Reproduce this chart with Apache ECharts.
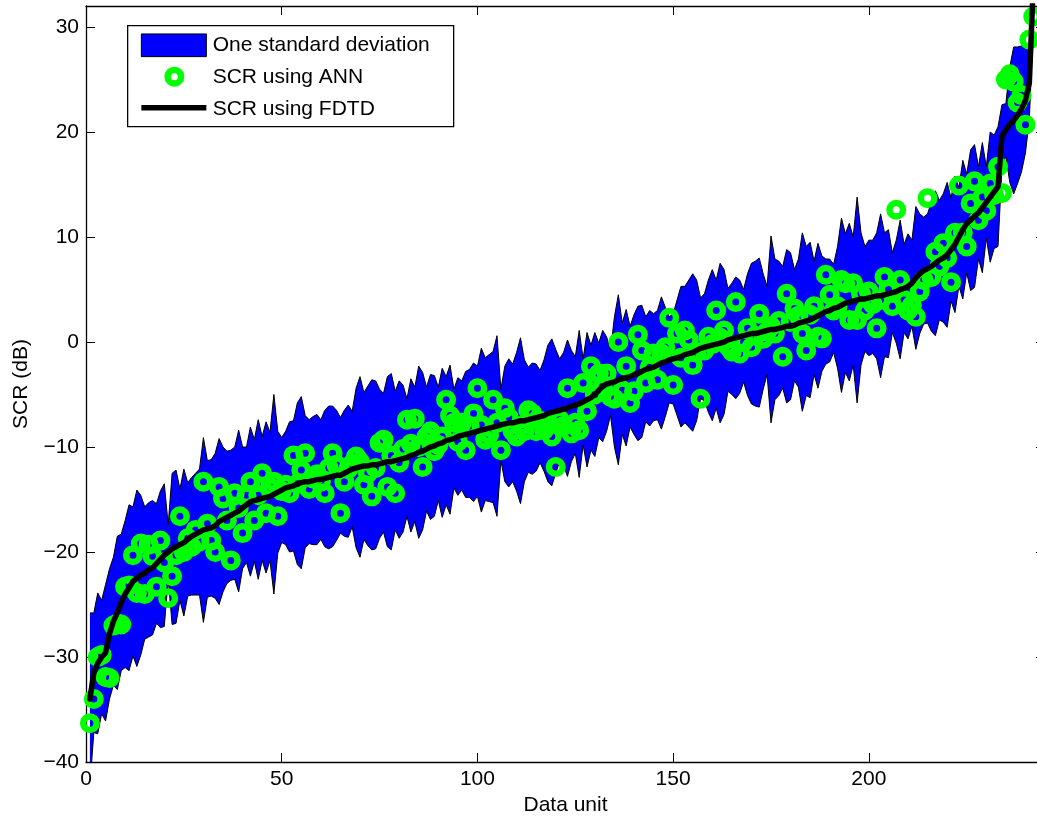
<!DOCTYPE html>
<html>
<head>
<meta charset="utf-8">
<title>SCR: ANN vs FDTD</title>
<script src="https://cdn.jsdelivr.net/npm/echarts@6/dist/echarts.min.js"></script>
<style>
  html, body { margin: 0; padding: 0; background: #fff; }
  #chart { width: 1037px; height: 819px; }
</style>
</head>
<body>
<div id="chart"></div>
<script>
// SCR computed with FDTD, sorted ascending (data units 1..242)
const scrFdtd = [
  -34.0, -31.5, -30.6, -30.0, -29.6, -27.8, -26.6, -25.8, -24.8, -24.0,
  -23.4, -22.8, -22.5, -22.2, -22.0, -21.7, -21.5, -21.1, -20.7, -20.3,
  -20.0, -19.7, -19.5, -19.3, -19.1, -18.8, -18.5, -18.3, -18.1, -17.9,
  -17.8, -17.7, -17.5, -17.1, -16.9, -16.7, -16.5, -16.3, -16.1, -15.8,
  -15.5, -15.2, -15.1, -15.0, -14.9, -14.8, -14.7, -14.5, -14.3, -14.1,
  -13.9, -13.8, -13.7, -13.5, -13.4, -13.3, -13.3, -13.2, -13.1, -13.1,
  -13.0, -12.9, -12.8, -12.7, -12.7, -12.5, -12.3, -12.1, -12.0, -11.9,
  -11.8, -11.8, -11.7, -11.7, -11.6, -11.5, -11.4, -11.4, -11.3, -11.2,
  -11.1, -11.0, -10.8, -10.7, -10.5, -10.4, -10.2, -10.0, -9.9, -9.7,
  -9.6, -9.4, -9.3, -9.2, -9.0, -8.9, -8.8, -8.7, -8.6, -8.5,
  -8.4, -8.3, -8.2, -8.1, -8.0, -7.9, -7.8, -7.7, -7.7, -7.6,
  -7.5, -7.5, -7.4, -7.3, -7.2, -7.1, -7.0, -6.8, -6.7, -6.6,
  -6.5, -6.4, -6.3, -6.1, -6.0, -5.9, -5.7, -5.5, -5.3, -5.0,
  -4.6, -4.2, -4.0, -3.9, -3.8, -3.6, -3.5, -3.4, -3.3, -3.1,
  -3.0, -2.8, -2.6, -2.5, -2.4, -2.2, -2.0, -1.9, -1.7, -1.6,
  -1.5, -1.4, -1.2, -1.1, -1.0, -0.8, -0.6, -0.5, -0.4, -0.3,
  -0.2, -0.1, 0.0, 0.2, 0.3, 0.4, 0.5, 0.6, 0.7, 0.8,
  0.8, 0.9, 1.0, 1.1, 1.2, 1.2, 1.3, 1.4, 1.5, 1.5,
  1.6, 1.8, 1.9, 2.0, 2.1, 2.3, 2.5, 2.7, 2.9, 3.0,
  3.2, 3.3, 3.5, 3.7, 3.8, 3.9, 4.0, 4.1, 4.1, 4.2,
  4.3, 4.4, 4.4, 4.5, 4.6, 4.7, 4.8, 5.0, 5.1, 5.3,
  5.6, 6.1, 6.5, 6.8, 7.0, 7.2, 7.5, 7.8, 8.0, 8.3,
  8.8, 9.3, 10.0, 10.7, 11.3, 11.6, 12.0, 12.3, 12.8, 13.3,
  13.8, 14.3, 14.8, 19.6, 20.2, 20.7, 21.1, 21.6, 22.2, 23.0,
  24.7, 34.0
];

// One standard deviation of the ANN estimate around each FDTD value
const stdDev = [
  8.2, 5.7, 6.7, 5.4, 6.5, 6.2, 6.1, 7.3, 6.5, 7.0,
  7.9, 7.1, 8.4, 7.6, 6.3, 6.4, 6.4, 5.7, 6.5, 6.8,
  2.6, 7.2, 7.3, 5.3, 7.0, 5.4, 5.6, 5.8, 6.0, 8.8,
  6.5, 6.5, 6.9, 7.9, 6.9, 6.3, 6.2, 6.3, 7.7, 5.8,
  5.5, 7.1, 5.8, 7.6, 5.9, 7.2, 6.1, 9.5, 5.8, 5.0,
  5.4, 6.2, 6.2, 7.7, 8.2, 6.3, 5.9, 6.1, 6.2, 5.7,
  6.5, 6.8, 6.7, 6.2, 5.5, 6.0, 6.3, 5.5, 7.6, 8.6,
  7.0, 7.6, 8.1, 8.0, 7.1, 6.6, 8.1, 8.4, 6.6, 7.5,
  7.0, 5.6, 7.3, 6.4, 8.2, 7.5, 5.9, 6.9, 6.7, 5.4,
  7.1, 6.1, 7.1, 4.7, 5.6, 5.2, 6.0, 6.1, 6.6, 6.2,
  7.8, 6.8, 7.0, 7.2, 8.6, 3.4, 5.5, 6.1, 5.6, 6.6,
  7.9, 5.8, 5.0, 5.3, 5.1, 4.4, 5.3, 6.5, 7.0, 5.9,
  4.9, 5.4, 6.5, 5.3, 4.6, 7.0, 4.1, 6.4, 5.0, 5.9,
  4.5, 5.3, 4.5, 3.1, 6.2, 8.1, 5.3, 6.5, 4.8, 5.7,
  6.4, 6.3, 5.0, 5.5, 5.1, 5.2, 6.3, 5.2, 4.1, 4.3,
  5.5, 6.7, 6.5, 7.0, 7.5, 6.7, 4.8, 5.1, 6.3, 7.2,
  6.1, 7.6, 6.9, 4.9, 5.3, 5.8, 5.4, 4.4, 5.8, 6.7,
  6.9, 7.1, 5.5, 4.2, 8.9, 6.7, 6.4, 5.8, 7.3, 7.0,
  5.3, 6.1, 8.5, 7.1, 7.4, 5.4, 6.9, 5.5, 5.0, 4.9,
  4.2, 5.8, 8.3, 6.6, 7.5, 6.1, 9.8, 6.3, 5.0, 5.5,
  5.4, 6.0, 7.8, 5.9, 6.1, 3.8, 4.9, 6.6, 4.2, 5.0,
  4.1, 6.8, 5.7, 5.1, 5.2, 6.2, 6.9, 5.7, 6.1, 6.9,
  4.9, 6.5, 4.7, 6.6, 4.7, 6.7, 6.8, 4.4, 6.2, 3.4,
  6.2, 5.4, 5.7, 3.0, 2.5, 5.5, 7.0, 6.5, 6.0, 5.0,
  3.5, 4.0
];

// SCR predicted by the ANN for the same data units
const scrAnn = [
  -36.3, -34.0, -30.0, -29.8, -31.9, -32.0, -27.0, -26.8, -26.9, -23.3,
  -23.2, -20.3, -23.9, -19.2, -24.0, -19.3, -20.4, -23.3, -18.9, -21.0,
  -24.4, -22.3, -20.3, -16.6, -20.0, -18.7, -19.5, -17.9, -19.0, -13.3,
  -17.3, -18.9, -20.0, -13.8, -14.9, -17.0, -20.8, -14.4, -15.8, -18.2,
  -14.6, -13.3, -17.0, -14.6, -12.5, -16.3, -13.8, -13.3, -16.6, -14.2,
  -13.6, -14.4, -10.8, -13.5, -12.2, -10.6, -14.0, -13.0, -12.6, -13.3,
  -14.4, -12.0, -10.6, -11.7, -16.3, -13.3, -12.1, -11.6, -10.9, -11.4,
  -13.6, -12.5, -14.7, -12.0, -9.6, -9.3, -13.8, -10.8, -14.4, -11.5,
  -10.2, -7.4, -9.7, -7.3, -10.0, -11.9, -9.0, -8.5, -10.4, -9.8,
  -9.0, -5.5, -7.0, -7.7, -9.5, -7.7, -10.3, -8.0, -6.8, -4.4,
  -7.9, -9.3, -8.8, -5.5, -7.7, -10.3, -6.3, -7.2, -8.5, -9.0,
  -8.0, -8.5, -6.5, -6.8, -8.5, -7.5, -8.4, -7.7, -9.0, -11.9,
  -7.4, -8.0, -4.4, -8.7, -7.7, -8.4, -3.9, -6.6, -2.3, -5.0,
  -3.0, -4.2, -3.0, -5.2, -5.4, 0.0, -4.6, -2.3, -5.8, -4.7,
  0.7, -0.8, -3.9, -2.4, -1.1, -3.6, -1.1, -0.5, 2.3, -4.1,
  0.8, -1.5, 1.1, 0.2, -2.2, -1.0, -5.4, -0.8, 0.5, -0.2,
  3.0, 0.4, 1.1, -0.4, -0.9, 3.8, -1.1, 0.0, 1.3, -0.5,
  0.6, 2.7, 0.3, 1.0, 1.5, 0.8, 2.0, -1.4, 4.6, 1.9,
  3.2, 2.5, 0.8, -0.8, 2.6, 3.4, 0.5, 0.35, 6.4, 4.5,
  3.0, 3.4, 5.9, 5.6, 2.1, 5.6, 2.1, 4.6, 3.0, 4.8,
  3.6, 1.3, 4.0, 6.2, 5.0, 3.4, 12.6, 5.9, 4.0, 3.0,
  3.5, 2.4, 4.8, 5.9, 13.7, 6.2, 8.6, 7.2, 9.4, 8.0,
  5.7, 10.4, 14.9, 10.4, 9.1, 13.2, 15.3, 11.6, 13.8, 12.5,
  15.1, 14.0, 16.7, 14.2, 25.0, 25.5, 24.8, 22.8, 23.5, 20.7,
  28.8, 31.0
];

const xTicks = [0, 50, 100, 150, 200];
const yTicks = [-40, -30, -20, -10, 0, 10, 20, 30];

const legendNames = ['One standard deviation', 'SCR using ANN', 'SCR using FDTD'];

// [x, y] pairs for the value axes
const unit = i => i + 1;
const fdtdPts = scrFdtd.map((v, i) => [unit(i), v]);
const annPts = scrAnn.map((v, i) => [unit(i), v]);
const lowerPts = scrFdtd.map((v, i) => [unit(i), v - stdDev[i]]);
const upperPts = scrFdtd.map((v, i) => [unit(i), v + stdDev[i]]);
const bandRows = scrFdtd.map((v, i) => [unit(i), v - stdDev[i], v + stdDev[i]]);

const FONT = '"Liberation Sans", Arial, Helvetica, sans-serif';
const minus = v => String(v).replace('-', '\u2212');

const axisLineStyle = { color: '#000', width: 1.3 };
const tickStyle = { color: '#000', width: 1 };

// Whole band drawn as one filled polygon: upper edge left→right, lower edge right→left
function renderBand(params, api) {
  if (params.dataIndex !== 0) return null;
  const pts = [];
  for (let i = 0; i < bandRows.length; i++) pts.push(api.coord([bandRows[i][0], bandRows[i][2]]));
  for (let i = bandRows.length - 1; i >= 0; i--) pts.push(api.coord([bandRows[i][0], bandRows[i][1]]));
  const cs = params.coordSys;
  return {
    type: 'polygon',
    shape: { points: pts },
    style: { fill: '#0000ff', stroke: 'none' },
    clipPath: { type: 'rect', shape: { x: cs.x, y: cs.y, width: cs.width, height: cs.height } }
  };
}

const chart = echarts.init(document.getElementById('chart'), null, { renderer: 'canvas' });

const txt = (t, y) => ({
  type: 'text', x: 85, y: y, z: 101,
  style: { text: t, fill: '#000', fontSize: 21, fontFamily: FONT, verticalAlign: 'middle', align: 'left' }
});

const option = {
  animation: false,
  backgroundColor: '#fff',
  textStyle: { fontFamily: FONT },
  // the plot box runs a little past the right edge of the canvas
  grid: { left: 86, top: 6, width: 959, height: 756, containLabel: false, outerBoundsMode: 'none' },
  xAxis: [
    {
      type: 'value', min: 0, max: 245, interval: 50, position: 'bottom',
      name: 'Data unit', nameLocation: 'middle', nameGap: 30,
      nameTextStyle: { fontSize: 21, color: '#000', fontFamily: FONT },
      axisLine: { show: true, onZero: false, lineStyle: axisLineStyle },
      axisTick: { show: true, inside: true, length: 9, lineStyle: tickStyle, customValues: xTicks },
      axisLabel: { show: true, fontSize: 21, color: '#000', fontFamily: FONT, margin: 7,
                   customValues: xTicks, formatter: v => minus(v) },
      splitLine: { show: false }
    },
    {
      type: 'value', min: 0, max: 245, interval: 50, position: 'top',
      axisLine: { show: true, onZero: false, lineStyle: axisLineStyle },
      axisTick: { show: true, inside: true, length: 9, lineStyle: tickStyle, customValues: xTicks },
      axisLabel: { show: false },
      splitLine: { show: false }
    }
  ],
  yAxis: [
    {
      type: 'value', min: -40, max: 32, interval: 10, position: 'left',
      name: 'SCR (dB)', nameLocation: 'middle', nameGap: 54, nameRotate: 90,
      nameTextStyle: { fontSize: 21, color: '#000', fontFamily: FONT },
      axisLine: { show: true, onZero: false, lineStyle: axisLineStyle },
      axisTick: { show: true, inside: true, length: 9, lineStyle: tickStyle, customValues: yTicks },
      axisLabel: { show: true, fontSize: 21, color: '#000', fontFamily: FONT, margin: 7,
                   customValues: yTicks,
                   formatter: v => (v % 10 === 0 ? minus(v) : '') },
      splitLine: { show: false }
    },
    {
      type: 'value', min: -40, max: 32, interval: 10, position: 'right',
      axisLine: { show: true, onZero: false, lineStyle: axisLineStyle },
      axisTick: { show: true, inside: true, length: 9, lineStyle: tickStyle, customValues: yTicks },
      axisLabel: { show: false },
      splitLine: { show: false }
    }
  ],
  series: [
    {
      name: legendNames[0],
      type: 'custom', xAxisIndex: 0, yAxisIndex: 0,
      data: bandRows, renderItem: renderBand, z: 1, silent: true,
      encode: { x: 0, y: [1, 2] }
    },
    {
      name: 'band upper edge',
      type: 'line', data: upperPts, symbol: 'none', z: 2, silent: true,
      lineStyle: { color: '#000', width: 1 }
    },
    {
      name: 'band lower edge',
      type: 'line', data: lowerPts, symbol: 'none', z: 2, silent: true,
      lineStyle: { color: '#000', width: 1 }
    },
    {
      name: legendNames[1],
      type: 'scatter', data: annPts, symbol: 'circle', symbolSize: 13.5, z: 3, silent: true,
      itemStyle: { color: 'rgba(0,0,0,0)', borderColor: '#00ff00', borderWidth: 6.5, opacity: 1 }
    },
    {
      name: legendNames[2],
      type: 'line', data: fdtdPts, symbol: 'none', z: 4, silent: true,
      lineStyle: { color: '#000', width: 5.5, join: 'round', cap: 'round' }
    }
  ],
  graphic: [
    {
      type: 'group', left: 127, top: 25, z: 100,
      children: [
        { type: 'rect', z: 100, shape: { x: 0, y: 0, width: 326, height: 101 },
          style: { fill: '#fff', stroke: '#000', lineWidth: 1.3 } },
        { type: 'rect', z: 101, shape: { x: 13.7, y: 8.3, width: 65, height: 22.7 },
          style: { fill: '#0000ff', stroke: '#000', lineWidth: 1 } },
        txt(legendNames[0], 20),
        { type: 'circle', z: 101, shape: { cx: 46.7, cy: 51, r: 6.75 },
          style: { fill: 'none', stroke: '#00ff00', lineWidth: 6.5 } },
        txt(legendNames[1], 52),
        { type: 'line', z: 101, shape: { x1: 13.7, y1: 82, x2: 78.7, y2: 82 },
          style: { stroke: '#000', lineWidth: 5.5 } },
        txt(legendNames[2], 84)
      ]
    }
  ]
};

chart.setOption(option);
</script>
</body>
</html>
